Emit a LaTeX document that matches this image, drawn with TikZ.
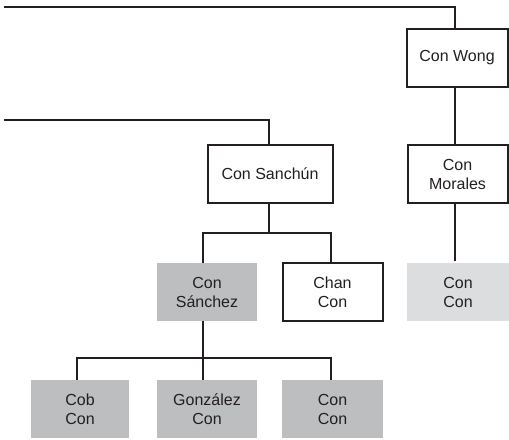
\documentclass[tikz,border=0pt]{standalone}
\usepackage{fontspec}
\setmainfont{Liberation Sans}
\definecolor{ink}{HTML}{231F20}
\definecolor{midgray}{HTML}{BCBEC0}
\definecolor{lightgray}{HTML}{DCDDDE}
\begin{document}
\begin{tikzpicture}[x=1bp,y=-1bp,
  box/.style={rectangle, minimum height=58bp, inner sep=0pt, align=center,
    font=\fontsize{16bp}{19bp}\selectfont, text=ink},
  framed/.style={box, draw=ink, line width=2bp},
  shaded/.style={box, fill=midgray},
  pale/.style={box, fill=lightgray},
  link/.style={draw=ink, line width=2bp}]
\useasboundingbox (0,0) rectangle (509,440);

% boxes
\node[framed, minimum width=101bp] (wong)     at (457,58)    {Con Wong};
\node[framed, minimum width=100bp] (morales)  at (457.5,174) {Con\\Morales};
\node[framed, minimum width=125bp] (sanchun)  at (270,174)   {Con Sanchún};
\node[shaded, minimum width=100bp] (sanchez)  at (207,292)   {Con\\Sánchez};
\node[framed, minimum width=100bp] (chan)     at (332.5,292) {Chan\\Con};
\node[pale,   minimum width=102bp] (conconA)  at (458,292)   {Con\\Con};
\node[shaded, minimum width=98bp]  (cob)      at (80,409)    {Cob\\Con};
\node[shaded, minimum width=100bp] (gonzalez) at (207,409)   {González\\Con};
\node[shaded, minimum width=101bp] (conconB)  at (332.5,409) {Con\\Con};

% bus points
\coordinate (topL)  at (4,7);
\coordinate (topR)  at (455,7);
\coordinate (midL)  at (4,120);
\coordinate (midR)  at (269,120);
\coordinate (forkA) at (269,233);
\coordinate (forkAl) at (203,233);
\coordinate (forkAr) at (331,233);
\coordinate (forkB) at (203,358);
\coordinate (forkBl) at (77,358);
\coordinate (forkBr) at (331,358);
\coordinate (wongS) at (455,87);
\coordinate (moralesEnd) at (455,261);

% connectors
\draw[link] (topL) -- (topR) -- (topR |- wong.north);
\draw[link] (wongS) -- (wongS |- morales.north);
\draw[link] (morales.south -| wongS) -- (moralesEnd);
\draw[link] (midL) -- (midR) -- (midR |- sanchun.north);
\draw[link] (sanchun.south -| forkA) -- (forkA);
\draw[link] (forkAl |- sanchez.north) -- (forkAl) -- (forkAr) -- (forkAr |- chan.north);
\draw[link] (sanchez.south -| forkB) -- (forkB);
\draw[link] (forkBl |- cob.north) -- (forkBl) -- (forkBr) -- (forkBr |- conconB.north);
\draw[link] (forkB) -- (forkB |- gonzalez.north);
\end{tikzpicture}
\end{document}
